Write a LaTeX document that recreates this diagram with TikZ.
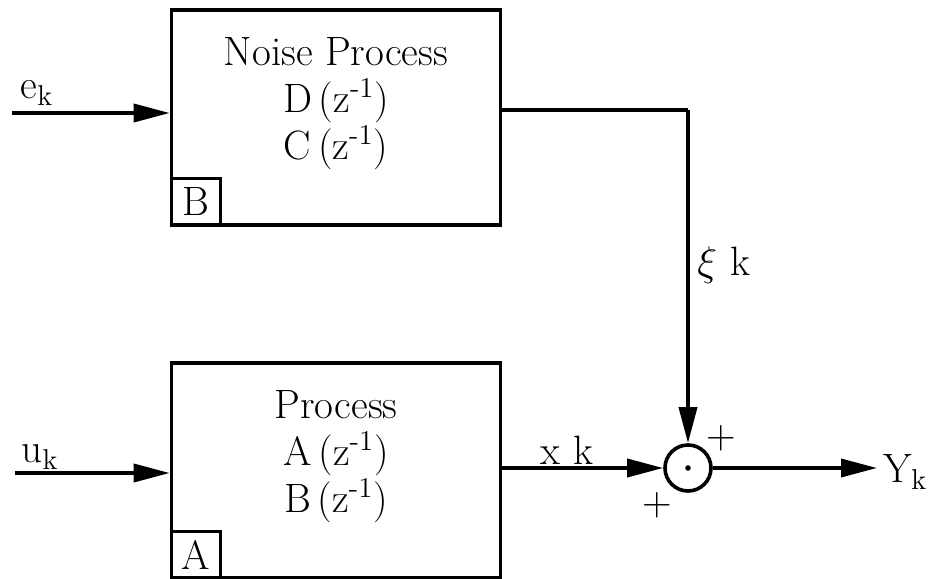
\documentclass[tikz,border=0pt]{standalone}
\usetikzlibrary{positioning, arrows.meta}

\begin{document}
\begin{tikzpicture}[x=0.5pt, y=-0.5pt,
    font=\fontsize{20.5}{23.5}\selectfont,
    block/.style={draw=black, line width=1.8pt, minimum width=164.5pt, minimum height=107.5pt, inner sep=0pt},
    tag/.style={draw=black, line width=1.5pt, minimum width=24.5pt, minimum height=23.5pt, inner sep=0pt, anchor=south west},
    sig/.style={line width=1.8pt, -{Triangle[length=18pt, width=9pt]}},
    wire/.style={line width=1.8pt}]

    % Page frame
    \useasboundingbox (0,0) rectangle (928,579);

    % 1. Noise process block
    \node[block] (noise) at (336,117.5) {};
    \node[align=center] (noisetxt) at (336,104) {Noise Process\\D\,(z\textsuperscript{-1})\\C\,(z\textsuperscript{-1})};
    \node[tag] (tagB) at (noise.south west) {B};

    % 2. Process block
    \node[block] (proc) at (336,470.5) {};
    \node[align=center] (proctxt) at (336,457) {Process\\A\,(z\textsuperscript{-1})\\B\,(z\textsuperscript{-1})};
    \node[tag] (tagA) at (proc.south west) {A};

    % 3. Summing junction
    \node[draw=black, line width=1.8pt, circle, minimum size=23pt, inner sep=0pt] (sum) at (688,468) {};
    \fill (sum) circle (1.4pt);

    % 4. Inputs
    \coordinate (ein) at (12,113);
    \coordinate (uin) at (15,473);
    \draw[sig] (ein) -- (ein -| noise.west);
    \draw[sig] (uin) -- (uin -| proc.west);
    \node (elab) at (37,93) {e\textsubscript{k}};
    \node (ulab) at (40,457) {u\textsubscript{k}};

    % 5. Connections to the junction
    \coordinate (nout) at (500,110);
    \draw[wire] (nout) -- (nout -| sum);
    \draw[sig] (nout -| sum) -- (sum.north);
    \draw[sig] (proc.east |- sum) -- (sum.west);
    \node (xilab) at (724,265) {$\xi$\,\,k};
    \node (xlab) at (567,450) {x\,\,k};

    % 6. Output
    \coordinate (yout) at (877,468);
    \draw[sig] (sum.east) -- (yout);
    \node[anchor=west] (ylab) at (876,472) {Y\textsubscript{k}};

    % 7. Signs
    \node (plusA) at (721,438) {+};
    \node (plusB) at (657,505) {+};

\end{tikzpicture}
\end{document}
